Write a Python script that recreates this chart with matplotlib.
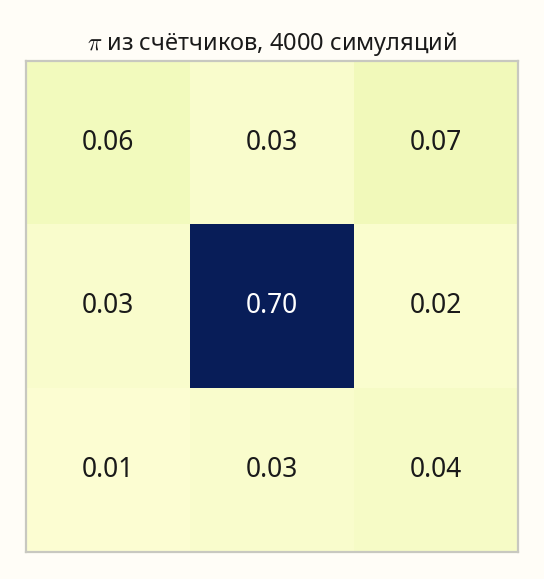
import numpy as np
import matplotlib
matplotlib.use("Agg")
import matplotlib.pyplot as plt

# shares of outcomes
row_top = [0.062, 0.030, 0.068]
row_mid = [0.028, 0.700, 0.022]
row_bot = [0.014, 0.030, 0.042]
title = r"$\pi$ из счётчиков, 4000 симуляций"

plt.rcParams['font.family'] = ['Noto Sans', 'DejaVu Sans']
plt.rcParams['mathtext.fontset'] = 'cm'

vals = np.array([row_top, row_mid, row_bot])
bg = '#fffdf7'

fig = plt.figure(figsize=(5.44, 5.79), dpi=100, facecolor=bg)
ax = fig.add_axes([26 / 544, 1 - 552 / 579, 492 / 544, 491 / 579])
ax.imshow(vals, cmap='YlGnBu', vmin=0, vmax=vals.max(), aspect='auto')

for i in range(vals.shape[0]):
    for j in range(vals.shape[1]):
        v = vals[i, j]
        ax.text(j, i, f"{v:.2f}", ha='center', va='center', fontsize=19,
                color='white' if v > 0.4 else '#1a1a1a')

ax.set_xticks([])
ax.set_yticks([])
for s in ax.spines.values():
    s.set_color('#c8c8c0')
    s.set_linewidth(1.6)
ax.set_title(title, fontsize=17, color='#1a1a1a', pad=8)

fig.savefig('out.png', dpi=100, facecolor=bg)
